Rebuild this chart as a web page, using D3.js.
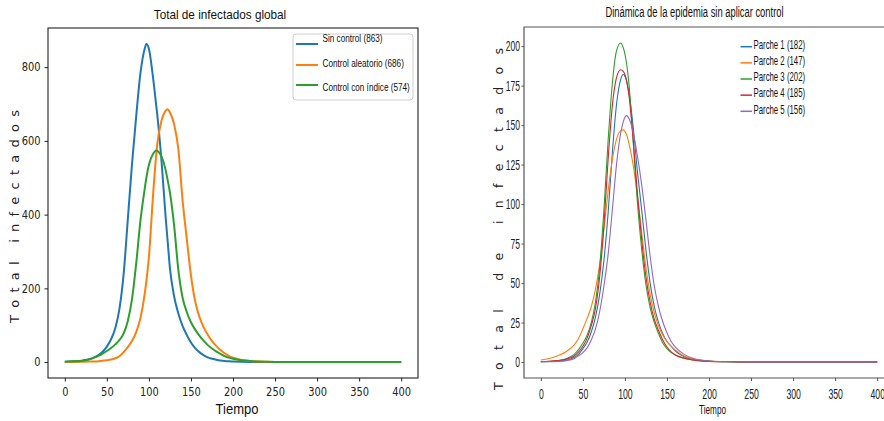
<!DOCTYPE html>
<html>
<head>
<meta charset="utf-8">
<script src="https://cdn.jsdelivr.net/npm/d3@7"></script>
<style>
  html, body { margin: 0; padding: 0; background: #fff; overflow: hidden; }
  svg { display: block; }
</style>
</head>
<body>
<svg id="chart" width="884" height="421"></svg>
<script>
// ---- Panel 1: total infected, three strategies ----
const globalTime = [0, 10, 20, 30, 35, 40, 45, 50, 55, 60, 65, 70, 75, 80, 85, 90, 95, 97, 100, 105, 109, 110,
  115, 120, 122, 125, 130, 135, 140, 145, 150, 155, 160, 165, 170, 175, 180, 185, 190, 195, 200,
  210, 220, 230, 240, 250, 300, 350, 400];
const sinControl = [1, 2, 4, 8.5, 13, 19, 28, 42, 62, 92, 145, 240, 390, 540, 670, 785, 850, 863, 850, 770, 690, 670,
  545, 390, 336, 255, 178, 132, 98, 74, 53, 38, 27, 19, 13, 9, 6.5, 4.5, 3, 2, 1.5,
  0.8, 0.4, 0.2, 0.1, 0.05, 0, 0, 0];
const controlAleatorio = [0.3, 0.5, 0.8, 1.3, 1.8, 2.5, 3.5, 5, 7, 10.5, 16, 27, 41, 58, 82, 120, 185, 220, 285, 455, 570, 592,
  655, 682, 686, 677, 645, 578, 440, 335, 235, 165, 123, 95, 74, 57, 44, 33, 24, 17, 12,
  6, 3, 1.5, 0.8, 0.4, 0, 0, 0];
const controlIndice = [1, 2, 3, 8, 12, 17, 23, 30, 38, 48, 60, 78, 112, 172, 270, 385, 470, 500, 535, 565, 574, 573,
  558, 520, 497, 460, 370, 250, 175, 136, 108, 88, 72, 58, 46, 37, 29, 22, 16, 12, 9,
  5, 3, 1.6, 0.9, 0.5, 0, 0, 0];
const globalNames = ["Sin control (863)", "Control aleatorio (686)", "Control con índice (574)"];
const globalTicksX = [0, 50, 100, 150, 200, 250, 300, 350, 400];
const globalTicksY = [0, 200, 400, 600, 800];

// ---- Panel 2: infected per patch, no control ----
const patchTime = [0, 10, 20, 30, 40, 45, 50, 55, 60, 65, 70, 75, 80, 85, 90, 95, 98, 100, 102, 105,
  110, 115, 120, 125, 130, 135, 140, 145, 150, 155, 160, 170, 180, 190, 200, 220, 250, 300, 350, 400];
const parche1 = [0.2, 0.3, 0.6, 1.2, 3, 5, 8.5, 12.5, 19, 28.5, 43, 64, 94, 132, 163, 179, 182, 181, 178, 170,
  148, 120, 96, 71, 50, 35, 25, 18, 13, 10, 7, 3.5, 1.8, 1, 0.5, 0.2, 0, 0, 0, 0];
const parche2 = [1.3, 2.2, 4, 6.5, 11, 15, 21, 27.5, 35, 46, 62, 84, 108, 128, 141, 146.5, 147, 146, 144, 138,
  124, 105, 82, 60, 43, 31, 23, 17, 13, 10, 7.5, 4, 2, 1.2, 0.7, 0.3, 0.1, 0, 0, 0];
const parche3 = [0.3, 0.5, 1, 2, 5, 8, 12, 17, 25, 38, 60, 96, 140, 176, 197, 202, 199, 195, 189, 175,
  138, 100, 71, 49, 34.5, 25, 18, 12, 8.5, 6, 4.5, 2.5, 1.5, 0.8, 0.5, 0.2, 0, 0, 0, 0];
const parche4 = [0.3, 0.5, 0.9, 1.8, 4, 6.5, 10, 15, 23, 34, 54, 86, 128, 162, 180, 185, 184, 182, 178, 168,
  140, 106, 77, 54, 38, 27, 20, 14, 9.5, 6.5, 4.5, 2.5, 1.3, 0.7, 0.4, 0.2, 0, 0, 0, 0];
const parche5 = [0.1, 0.2, 0.4, 0.9, 2.3, 4, 6, 9, 14, 21, 32, 48, 68, 96, 125, 145, 152, 155, 156, 154,
  145, 130, 112, 90, 67, 48, 35, 25.5, 18.5, 13, 9.5, 5, 2.5, 1.3, 0.7, 0.3, 0.1, 0, 0, 0];
const patchNames = ["Parche 1 (182)", "Parche 2 (147)", "Parche 3 (202)", "Parche 4 (185)", "Parche 5 (156)"];
const patchTicksX = [0, 50, 100, 150, 200, 250, 300, 350, 400];
const patchTicksY = [0, 25, 50, 75, 100, 125, 150, 175, 200];

const palette = ["#1f77b4", "#ff7f0e", "#2ca02c", "#d62728", "#9467bd"];

const svg = d3.select("#chart");

// padded domain, 5% on each side of the data range
function padded(lo, hi) {
  const p = (hi - lo) * 0.05;
  return [lo - p, hi + p];
}

// horizontally condensed text
function squeeze(sel, k, origin) {
  sel.style("transform-box", "fill-box")
     .style("transform-origin", origin)
     .style("transform", `scaleX(${k})`);
}

// ================= Left panel =================
(function () {
  const box = { left: 48, right: 418, top: 28, bottom: 378 };
  const series = [sinControl, controlAleatorio, controlIndice];
  const x = d3.scaleLinear().domain(padded(d3.min(globalTime), d3.max(globalTime))).range([box.left, box.right]);
  const y = d3.scaleLinear().domain(padded(0, d3.max(series.flat()))).range([box.bottom, box.top]);
  const g = svg.append("g");

  g.append("clipPath").attr("id", "clipL").append("rect")
    .attr("x", box.left).attr("y", box.top).attr("width", box.right - box.left).attr("height", box.bottom - box.top);

  const line = d3.line().x((d, i) => x(globalTime[i])).y(d => y(d)).curve(d3.curveMonotoneX);
  g.append("g").attr("clip-path", "url(#clipL)")
    .selectAll("path").data(series).join("path")
    .attr("d", line).attr("fill", "none")
    .attr("stroke", (d, i) => palette[i]).attr("stroke-width", 2)
    .attr("stroke-linejoin", "round");

  const ax = g.append("g").attr("transform", `translate(0,${box.bottom})`)
    .call(d3.axisBottom(x).tickValues(globalTicksX).tickSize(3.5).tickPadding(6).tickFormat(d3.format("d")));
  const ay = g.append("g").attr("transform", `translate(${box.left},0)`)
    .call(d3.axisLeft(y).tickValues(globalTicksY).tickSize(3.5).tickPadding(4).tickFormat(d3.format("d")));
  [ax, ay].forEach(a => {
    a.select(".domain").remove();
    a.selectAll("line").attr("stroke", "#222");
    a.selectAll("text").attr("fill", "#222").style("font-family", "DejaVu Sans").style("font-size", "11.5px");
  });
  squeeze(ax.selectAll("text"), 0.86, "50% 50%");
  squeeze(ay.selectAll("text"), 0.86, "100% 50%");

  g.append("rect").attr("x", box.left).attr("y", box.top)
    .attr("width", box.right - box.left).attr("height", box.bottom - box.top)
    .attr("fill", "none").attr("stroke", "#222").attr("stroke-width", 1.1);

  const title = g.append("text").attr("x", 220).attr("y", 19.5).attr("text-anchor", "middle")
    .style("font-family", "Liberation Sans").style("font-size", "13.5px").attr("fill", "#111")
    .text("Total de infectados global");
  squeeze(title, 0.87, "50% 50%");

  const xl = g.append("text").attr("x", 237).attr("y", 414).attr("text-anchor", "middle")
    .style("font-family", "Liberation Sans").style("font-size", "15px").attr("fill", "#111")
    .text("Tiempo");
  squeeze(xl, 0.87, "50% 50%");

  g.append("text").attr("transform", "translate(14,216.5) rotate(-90)")
    .attr("text-anchor", "middle").attr("dominant-baseline", "central")
    .style("font-family", "DejaVu Sans").style("font-size", "13px").style("white-space", "pre")
    .attr("fill", "#222")
    .attr("textLength", 213).attr("lengthAdjust", "spacing")
    .text("T o t a l   i n f e c t a d o s");

  // legend
  const lg = g.append("g");
  lg.append("rect").attr("x", 293).attr("y", 34).attr("width", 120).attr("height", 66)
    .attr("rx", 3).attr("fill", "#fff").attr("stroke", "#d0d0d0").attr("stroke-width", 1);
  const lineY = [44, 65, 85];
  const textY = [42, 67, 91];
  globalNames.forEach((name, i) => {
    lg.append("line").attr("x1", 296).attr("x2", 318).attr("y1", lineY[i]).attr("y2", lineY[i])
      .attr("stroke", palette[i]).attr("stroke-width", 2);
    const t = lg.append("text").attr("x", 322.5).attr("y", textY[i])
      .style("font-family", "Liberation Sans").style("font-size", "10.5px").attr("fill", "#111")
      .text(name);
    squeeze(t, 0.78, "0% 50%");
  });
})();

// ================= Right panel =================
(function () {
  const box = { left: 524, right: 894, top: 27, bottom: 378 };
  const series = [parche1, parche2, parche3, parche4, parche5];
  const x = d3.scaleLinear().domain(padded(d3.min(patchTime), d3.max(patchTime))).range([box.left, box.right]);
  const y = d3.scaleLinear().domain(padded(0, d3.max(series.flat()))).range([box.bottom, box.top]);
  const g = svg.append("g");

  g.append("clipPath").attr("id", "clipR").append("rect")
    .attr("x", box.left).attr("y", box.top).attr("width", box.right - box.left).attr("height", box.bottom - box.top);

  const line = d3.line().x((d, i) => x(patchTime[i])).y(d => y(d)).curve(d3.curveMonotoneX);
  g.append("g").attr("clip-path", "url(#clipR)")
    .selectAll("path").data(series).join("path")
    .attr("d", line).attr("fill", "none")
    .attr("stroke", (d, i) => palette[i]).attr("stroke-width", 1.1);

  const ax = g.append("g").attr("transform", `translate(0,${box.bottom})`)
    .call(d3.axisBottom(x).tickValues(patchTicksX).tickSize(3).tickPadding(7).tickFormat(d3.format("d")));
  const ay = g.append("g").attr("transform", `translate(${box.left},0)`)
    .call(d3.axisLeft(y).tickValues(patchTicksY).tickSize(2.5).tickPadding(1.5).tickFormat(d3.format("d")));
  [ax, ay].forEach(a => {
    a.select(".domain").remove();
    a.selectAll("line").attr("stroke", "#555");
    a.selectAll("text").attr("fill", "#222").style("font-family", "Liberation Sans").style("font-size", "15px");
  });
  squeeze(ax.selectAll("text"), 0.58, "50% 50%");
  squeeze(ay.selectAll("text"), 0.57, "100% 50%");

  // spines: left, bottom, top
  g.append("path")
    .attr("d", `M${box.right},${box.top}H${box.left}V${box.bottom}H${box.right}`)
    .attr("fill", "none").attr("stroke", "#555").attr("stroke-width", 1.2);

  const title = g.append("text").attr("x", 694.5).attr("y", 17).attr("text-anchor", "middle")
    .style("font-family", "Liberation Sans").style("font-size", "15px").attr("fill", "#111")
    .text("Dinámica de la epidemia sin aplicar control");
  squeeze(title, 0.625, "50% 50%");

  const xl = g.append("text").attr("x", 712.5).attr("y", 414.5).attr("text-anchor", "middle")
    .style("font-family", "Liberation Sans").style("font-size", "13px").attr("fill", "#111")
    .text("Tiempo");
  squeeze(xl, 0.63, "50% 50%");

  g.append("text").attr("transform", "translate(498,219) rotate(-90)")
    .attr("text-anchor", "middle").attr("dominant-baseline", "central")
    .style("font-family", "DejaVu Sans").style("font-size", "12.5px").style("white-space", "pre")
    .attr("fill", "#222")
    .attr("textLength", 342).attr("lengthAdjust", "spacing")
    .text("T o t a l   d e   i n f e c t a d o s");

  // legend (no frame)
  const lg = g.append("g");
  patchNames.forEach((name, i) => {
    const ly = 46.7 + i * 16.15;
    lg.append("line").attr("x1", 740.5).attr("x2", 752).attr("y1", ly).attr("y2", ly)
      .attr("stroke", palette[i]).attr("stroke-width", 1.5);
    const t = lg.append("text").attr("x", 753.5).attr("y", ly + 2.3)
      .style("font-family", "Liberation Sans").style("font-size", "13px").attr("fill", "#111")
      .text(name);
    squeeze(t, 0.6, "0% 50%");
  });
})();
</script>
</body>
</html>
